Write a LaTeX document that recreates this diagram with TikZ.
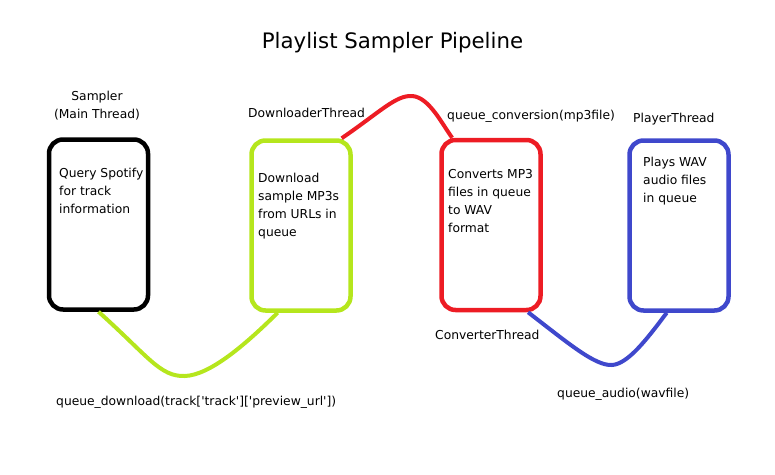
\documentclass[tikz,border=0pt]{standalone}
\usepackage{fontspec}
\setmainfont{DejaVu Sans}
\usepackage{xcolor}
\usepackage{tikz}
\usetikzlibrary{positioning, calc}
\definecolor{paintlime}{HTML}{B5E61D}
\definecolor{paintred}{HTML}{ED1C24}
\definecolor{paintblue}{HTML}{3F48CC}
\newcommand{\sq}{\textquotesingle}

\begin{document}
\begin{tikzpicture}[x=1pt, y=-1pt,
  box/.style={draw, line width=4.5pt, rounded corners=14pt, minimum width=99pt, minimum height=170pt, inner sep=0pt},
  txt/.style={inner sep=0pt, anchor=north west, align=left, font=\fontsize{12.3}{18}\selectfont},
  lbl/.style={inner sep=0pt, anchor=base west, font=\fontsize{12.3}{18}\selectfont},
  link/.style={line width=4pt}
]
\useasboundingbox (0,0) rectangle (775,474);
\node[inner sep=0pt, anchor=base, font=\fontsize{21.3}{26}\selectfont] (title) at (392.5,48.3) {Playlist Sampler Pipeline};

\node[box, draw=black] (sampler) at (98.5,224.5) {};
\node[box, draw=paintlime] (downloader) at (301,225.5) {};
\node[box, draw=paintred] (converter) at (491,225) {};
\node[box, draw=paintblue] (player) at (679,225.5) {};

\node[txt] (samplertxt) at (59,167.7) {Query Spotify\\for track\\information};
\node[txt] (downloadertxt) at (258,172.6) {Download\\sample MP3s\\from URLs in\\queue};
\node[txt] (convertertxt) at (448,169.3) {Converts MP3\\files in queue\\to WAV\\format};
\node[txt] (playertxt) at (643,156.6) {Plays WAV\\audio files\\in queue};

\node[inner sep=0pt, anchor=north, align=center, font=\fontsize{12.3}{17.5}\selectfont] (samplerlbl) at (97,91.3) {Sampler\\(Main Thread)};
\node[lbl] (downloaderlbl) at (248,117.5) {DownloaderThread};
\node[lbl] (playerlbl) at (633,122.5) {PlayerThread};
\node[lbl] (converterlbl) at (435,339) {ConverterThread};
\node[lbl] (conversionq) at (447,119) {queue\_conversion(mp3file)};
\node[lbl] (downloadq) at (56,405) {queue\_download(track[\sq track\sq][\sq preview\_url\sq])};
\node[lbl] (audioq) at (557,397) {queue\_audio(wavfile)};

% queues between the threads
\draw[link, paintlime] (sampler.south) .. controls (148,356) and (160,377) .. (185,376)
  .. controls (210,375) and (245,345) .. (downloader.-105);
\draw[link, paintred] (downloader.65) .. controls (380,112) and (396,95) .. (412,96)
  .. controls (429,97) and (442,124) .. (converter.114);
\draw[link, paintblue] (converter.-67) .. controls (568,343) and (595,366) .. (612,365)
  .. controls (628,364) and (647,339) .. (player.-98);
\end{tikzpicture}
\end{document}
